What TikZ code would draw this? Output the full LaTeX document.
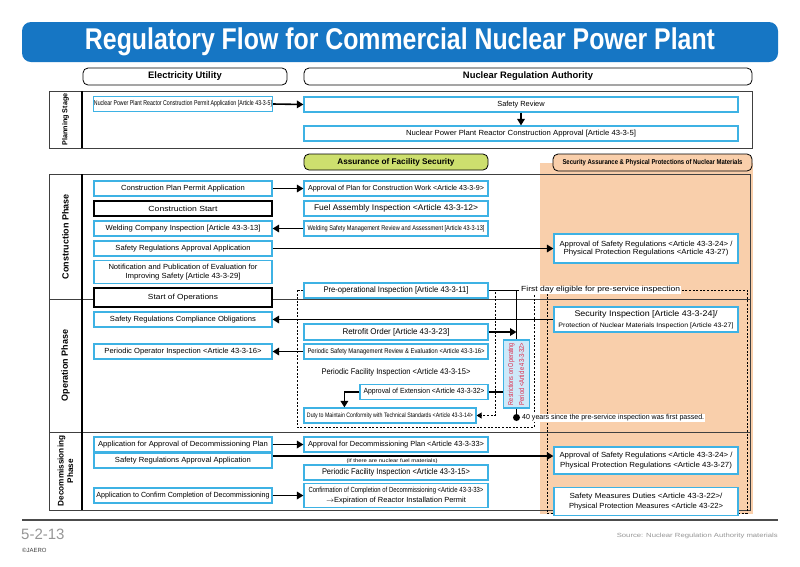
\documentclass[tikz,border=0pt]{standalone}
\usepackage{fontspec}
\setmainfont{Liberation Sans}
\usepackage{graphicx}
\usetikzlibrary{arrows.meta,positioning}
\definecolor{bannerblue}{RGB}{22,118,196}
\definecolor{boxcyan}{RGB}{62,178,228}
\definecolor{peach}{RGB}{249,207,171}
\definecolor{lime}{RGB}{205,223,110}
\definecolor{restfill}{RGB}{206,233,249}
\definecolor{restred}{RGB}{222,40,72}
\definecolor{footgray}{RGB}{150,150,150}
\newcommand\fitw[2]{\resizebox{#1}{\height}{#2}}
\newcommand\bxfont{\fontsize{7.4pt}{8.6pt}\selectfont}
\newcommand\bgfont{\fontsize{8.2pt}{9.4pt}\selectfont}
\newcommand\smfont{\fontsize{6.4pt}{7.4pt}\selectfont}
\newcommand\hdfont{\fontsize{9.4pt}{11pt}\selectfont}
\newcommand\phfont{\fontsize{9pt}{10.4pt}\selectfont}
\newcommand\ttlfont{\fontsize{30pt}{32pt}\selectfont}
\begin{document}
\begin{tikzpicture}[x=1pt,y=-1pt,
  cbox/.style={draw=boxcyan,line width=1.2pt,fill=white,inner sep=0.5pt,align=center,font=\bxfont,minimum height=15pt},
  kbox/.style={cbox,draw=black},
  lcol/.style={minimum width=178pt},
  mcol/.style={minimum width=184pt},
  head/.style={draw=black,line width=0.8pt,rounded corners=5pt,inner sep=0.5pt,font=\hdfont\bfseries,minimum height=17pt},
  phase/.style={rotate=90,font=\phfont\bfseries,align=center},
  flow/.style={line width=1.6pt,-{Triangle[length=6.5pt,width=7.5pt]}},
  link/.style={line width=1.6pt},
  dots/.style={line width=0.8pt,dash pattern=on 2pt off 1.6pt},
  frame/.style={draw=black!75,line width=0.8pt},
  note/.style={fill=white,inner sep=1pt,font=\bxfont,anchor=west}]
\useasboundingbox (0,0) rectangle (800,566);
\fill[white] (0,0) rectangle (800,566);

\node[fill=bannerblue,rounded corners=9pt,minimum width=756pt,minimum height=40pt,text=white,font=\ttlfont\bfseries] (ttl) at (400,42) {\fitw{630pt}{Regulatory Flow for Commercial Nuclear Power Plant}};
\node[head,minimum width=204pt] (hu) at (185,76.5) {Electricity Utility};
\node[head,minimum width=448pt] (hn) at (528,76.5) {Nuclear Regulation Authority};

% planning stage
\draw[frame] (49,91) rectangle (752,148);
\draw[line width=1.8pt] (82,91) -- (82,148);
\node[phase,font=\fontsize{7.2pt}{8pt}\selectfont\bfseries] (ph1) at (65.5,119.5) {Planning Stage};
\node[cbox,lcol,font=\fontsize{7pt}{8pt}\selectfont] (p1) at (183,104) {\fitw{178pt}{Nuclear Power Plant Reactor Construction Permit Application [Article 43-3-5]}};
\node[cbox,minimum width=434pt] (p2) at (521,104.5) {Safety Review};
\node[cbox,minimum width=434pt] (p3) at (521,133.5) {\fitw{230pt}{Nuclear Power Plant Reactor Construction Approval [Article 43-3-5]}};
\draw[flow] (p1.east) -- (p2.west);
\draw[flow] (p2.south) -- (p3.north);

% frames of the later phases
\fill[peach] (540,163) rectangle (753,514);
\node[head,fill=lime,minimum width=184pt,minimum height=16pt,font=\bgfont\bfseries] (hf) at (396,162) {Assurance of Facility Security};
\node[head,fill=peach,minimum width=199pt,font=\fontsize{7pt}{8pt}\selectfont\bfseries] (hs) at (652.5,162.5) {\fitw{180pt}{Security Assurance \& Physical Protections of Nuclear Materials}};
\draw[frame] (49,174) rectangle (750,510);
\draw[frame] (49,299) -- (750,299);
\draw[frame] (49,432) -- (750,432);
\draw[line width=1.8pt] (82,174) -- (82,510);
\node[phase] (ph2) at (65.5,236.5) {Construction Phase};
\node[phase] (ph3) at (65.5,365.5) {Operation Phase};
\node[phase,font=\fontsize{8.2pt}{9.6pt}\selectfont\bfseries] (ph4) at (65.5,471) {Decommissioning\\Phase};
\draw[dots] (297,290) rectangle (534,427);
\draw[dots] (547,290) rectangle (747,513);

% construction phase
\node[cbox,lcol] (c1) at (183,188.5) {\fitw{124pt}{Construction Plan Permit Application}};
\node[kbox,lcol] (c2) at (183,208.5) {\fitw{69pt}{Construction Start}};
\node[cbox,lcol] (c3) at (183,228.5) {\fitw{155pt}{Welding Company Inspection [Article 43-3-13]}};
\node[cbox,lcol] (c4) at (183,248.5) {\fitw{135pt}{Safety Regulations Approval Application}};
\node[cbox,lcol,minimum height=23pt] (c5) at (183,272) {\fitw{149pt}{Notification and Publication of Evaluation for}\\\fitw{115pt}{Improving Safety [Article 43-3-29]}};
\node[cbox,mcol,font=\fontsize{7.2pt}{8pt}\selectfont] (a1) at (396,188.5) {\fitw{176pt}{Approval of Plan for Construction Work <Article 43-3-9>}};
\node[cbox,mcol,font=\bgfont] (a2) at (396,208.5) {\fitw{164pt}{Fuel Assembly Inspection <Article 43-3-12>}};
\node[cbox,mcol,font=\fontsize{6.8pt}{8pt}\selectfont] (a3) at (396,228.5) {\fitw{177pt}{Welding Safety Management Review and Assessment [Article 43-3-13]}};
\node[cbox,minimum width=184pt,minimum height=29pt] (s1) at (646,248.5) {\fitw{173pt}{Approval of Safety Regulations <Article 43-3-24> /}\\\fitw{165pt}{Physical Protection Regulations <Article 43-27)}};
\draw[flow] (c1.east) -- (a1.west);
\draw[flow] (a3.west) -- (c3.east);
\draw[flow] (c4.east) -- (s1.west);

% operation phase
\node[kbox,lcol,minimum height=19pt] (o0) at (183,297.5) {\fitw{70pt}{Start of Operations}};
\node[cbox,lcol] (o1) at (183,319.5) {\fitw{146pt}{Safety Regulations Compliance Obligations}};
\node[cbox,lcol] (o2) at (183,351.5) {\fitw{157pt}{Periodic Operator Inspection <Article 43-3-16>}};
\node[cbox,mcol,font=\bgfont] (b1) at (396,290.5) {\fitw{145pt}{Pre-operational Inspection [Article 43-3-11]}};
\node[cbox,mcol,minimum height=16pt,font=\bgfont] (b2) at (396,332) {\fitw{107pt}{Retrofit Order [Article 43-3-23]}};
\node[cbox,mcol,font=\fontsize{6.8pt}{8pt}\selectfont] (b3) at (396,351.5) {\fitw{177pt}{Periodic Safety Management Review \& Evaluation <Article 43-3-16>}};
\node[inner sep=0.5pt,font=\bgfont] (b4) at (396,372) {\fitw{149pt}{Periodic Facility Inspection <Article 43-3-15>}};
\node[cbox,minimum width=128pt] (b5) at (424,392) {\fitw{121pt}{Approval of Extension <Article 43-3-32>}};
\node[cbox,minimum width=172pt,font=\fontsize{6.4pt}{7.4pt}\selectfont] (b6) at (390,415.5) {\fitw{166pt}{Duty to Maintain Conformity with Technical Standards <Article 43-3-14>}};
\node[draw=boxcyan,line width=1.2pt,fill=restfill,minimum width=26pt,minimum height=68pt,inner sep=0pt] (rp) at (516.5,374) {\rotatebox{90}{\color{restred}\fontsize{7.2pt}{11pt}\selectfont\begin{tabular}{@{}c@{}}\fitw{62pt}{Restrictions on Operating}\\\fitw{62pt}{Period <Article 43-3-32>}\end{tabular}}};
\node[cbox,minimum width=184pt,minimum height=25pt,font=\bgfont] (s2) at (646,319.5) {\fitw{143pt}{Security Inspection [Article 43-3-24]/}\\[1pt]{\smfont\fitw{175pt}{Protection of Nuclear Materials Inspection [Article 43-27]}}};
\node[circle,fill=black,inner sep=0pt,minimum size=7pt] (dot) at (516.5,417.5) {};
\coordinate (dtop) at (495,292);
\node[note] (fd) at (520,290) {\fitw{159pt}{First day eligible for pre-service inspection}};
\node[note,font=\fontsize{7.2pt}{8pt}\selectfont] (fy) at (521,418) {\fitw{182pt}{40 years since the pre-service inspection was first passed.}};
\draw[link] (b1.east) -| (rp.north);
\draw[flow] (b2.east) -- (b2.east -| rp.north);
\draw[flow] (s2.west) -- (o1.east);
\draw[flow] (b3.west) -- (o2.east);
\draw[link] (b5.east) -- (b5.east -| rp.west);
\draw[flow] (b5.west) -| ([xshift=41pt]b6.north west);
\draw[link] (rp.south) -- (dot);
\draw[dots,-{Triangle[length=5pt,width=6pt]}] (dtop) |- (b6.east);

% decommissioning phase
\node[cbox,lcol] (d1) at (183,444.5) {\fitw{170pt}{Application for Approval of Decommissioning Plan}};
\node[cbox,lcol] (d2) at (183,460.5) {\fitw{136pt}{Safety Regulations Approval Application}};
\node[cbox,lcol] (d3) at (183,495.5) {\fitw{173pt}{Application to Confirm Completion of Decommissioning}};
\node[cbox,mcol] (e1) at (396,444.5) {\fitw{176pt}{Approval for Decommissioning Plan <Article 43-3-33>}};
\node[inner sep=0pt,font=\fontsize{5pt}{6pt}\selectfont] (nf) at (392,461) {\fitw{91pt}{(If there are nuclear fuel materials)}};
\node[cbox,mcol,font=\bgfont] (e2) at (396,472.5) {\fitw{148pt}{Periodic Facility Inspection <Article 43-3-15>}};
\node[cbox,mcol,minimum height=24pt] (e3) at (396,495.5) {\fitw{175pt}{Confirmation of Completion of Decommissioning <Article 43-3-33>}\\[1.5pt]\fitw{140pt}{$\rightarrow$Expiration of Reactor Installation Permit}};
\node[cbox,minimum width=184pt,minimum height=27pt] (s3) at (646,460.5) {\fitw{173pt}{Approval of Safety Regulations <Article 43-3-24> /}\\[1.5pt]\fitw{172pt}{Physical Protection Regulations <Article 43-3-27)}};
\node[cbox,minimum width=184pt,minimum height=28pt] (s4) at (646,501.5) {\fitw{153pt}{Safety Measures Duties <Article 43-3-22>/}\\[1.5pt]\fitw{154pt}{Physical Protection Measures <Article 43-22>}};
\draw[flow] (d1.east) -- (e1.west);
\draw[flow] ([yshift=4.5pt]d2.east) -- ([yshift=4.5pt]s3.west);
\draw[flow] (d3.east) -- (e3.west);

% footer
\draw[line width=2pt,black!70] (22,520) -- (778,520);
\node[anchor=west,inner sep=0pt,text=footgray,font=\fontsize{15pt}{16pt}\selectfont] (pg) at (21,534) {5-2-13};
\node[anchor=west,inner sep=0pt,text=black!75,font=\fontsize{6pt}{7pt}\selectfont] (cr) at (22,550) {\textcopyright JAERO};
\node[anchor=east,inner sep=0pt,text=footgray,font=\fontsize{6pt}{7pt}\selectfont] (src) at (778,536) {\fitw{161pt}{Source: Nuclear Regulation Authority materials}};
\end{tikzpicture}
\end{document}
